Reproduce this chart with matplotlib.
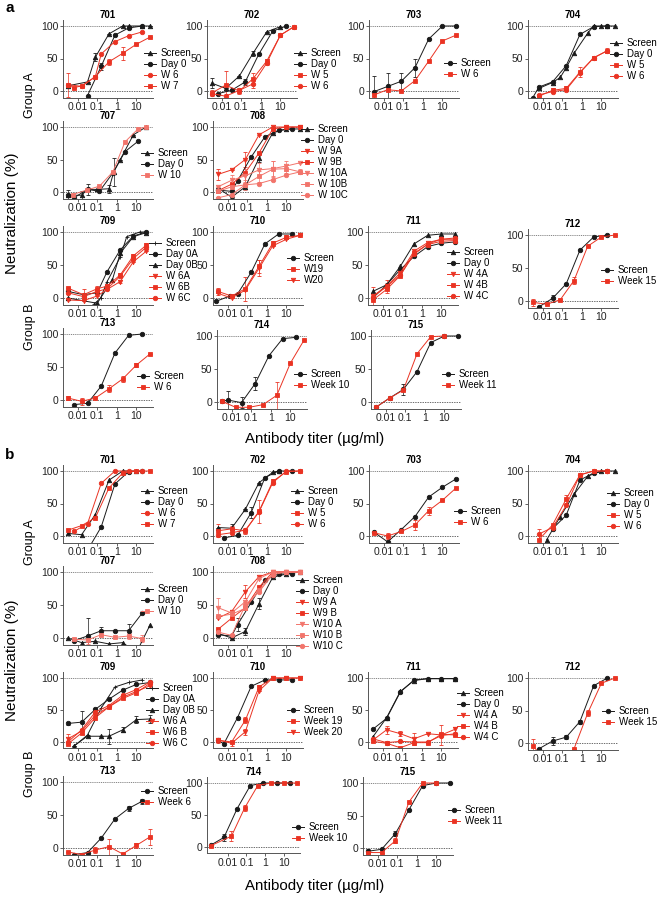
import matplotlib
matplotlib.use("Agg")
import matplotlib.pyplot as plt
from matplotlib.lines import Line2D

plt.rcParams['font.family'] = ['Liberation Sans', 'DejaVu Sans']

W, H = 658, 900
BLACK = '#1a1a1a'
RED = '#ea3323'
LIGHT_RED = '#f2746b'

# dilution series (µg/ml)
G5 = [0.0032, 0.016, 0.08, 0.4, 2, 10, 50]
G5b = [0.0064, 0.032, 0.16, 0.8, 4, 20]

# =============================================================================
# a: (label, x, y, error)
# =============================================================================
a701 = [
    ("Screen", [0.0032, 0.032, 0.08, 0.4, 2, 4, 20, 50], [8, 14, 52, 88, 100, 100, 100, 100], [0, 0, 6, 0, 0, 0, 0, 0]),
    ("Day 0", [0.032, 0.16, 0.8, 4, 20], [-7, 38, 86, 97, 100], [0, 5, 0, 0, 0]),
    ("W 6", [0.0032, 0.016, 0.08, 0.16, 0.8, 4, 20], [10, 7, 22, 57, 76, 85, 91], None),
    ("W 7", [0.0032, 0.0064, 0.016, 0.08, 0.4, 2, 10, 50], [9, 5, 8, 22, 45, 58, 72, 83], [18, 0, 0, 0, 5, 10, 0, 0]),
]
a702 = [
    ("Screen", G5[:6], [12, 4, 23, 58, 91, 99], [8, 0, 0, 4, 0, 0]),
    ("Day 0", G5b, [-4, 1, 14, 57, 92, 100], [0, 0, 4, 0, 0, 0]),
    ("W 5", G5, [-3, 9, 0, 19, 46, 86, 99], [5, 22, 5, 8, 4, 0, 0]),
    ("W 6", G5, [-4, -8, 1, 11, 43, 86, 99], [0, 3, 4, 6, 3, 0, 0]),
]
a703 = [
    ("Screen", G5, [-1, 7, 15, 36, 80, 100, 100], [24, 20, 12, 14, 0, 0, 0]),
    ("W 6", G5, [-6, 2, 0, 16, 46, 77, 86], None),
]
a704 = [
    ("Screen", [0.0064, 0.032, 0.08, 0.16, 0.4, 2, 4, 10, 20, 50], [4, 13, 21, 36, 58, 89, 100, 100, 100, 100], None),
    ("Day 0", [0.0032, 0.0064, 0.032, 0.16, 0.8, 4, 20], [-10, 6, 14, 39, 87, 99, 100], None),
    ("W 5", G5b, [-8, 1, 4, 29, 51, 62], [0, 3, 3, 8, 3, 4]),
    ("W 6", G5b, [-6, -1, 2, 28, 51, 62], [0, 0, 0, 0, 0, 0]),
]
a707 = [
    ("Screen", [0.0032, 0.016, 0.032, 0.1, 0.4, 0.7, 1.5, 7, 31], [-5, -5, 4, 4, 5, 31, 50, 88, 100], [8, 6, 8, 0, 6, 22, 0, 0, 0]),
    ("Day 0", [0.0032, 0.0064, 0.032, 0.13, 0.65, 2.6, 12], [-5, -9, 4, 1, 30, 62, 78], None),
    ("W 10", [0.0055, 0.029, 0.13, 0.63, 2.6, 12, 31], [-4, 3, 9, 31, 77, 97, 100], None),
]
a708 = [
    ("Screen", G5, [6, -8, 8, 52, 91, 97, 97], [0, 0, 0, 6, 0, 0, 0]),
    ("Day 0", [0.0032, 0.016, 0.032, 0.16, 0.8, 4, 20], [3, 1, 17, 54, 85, 95, 97], None),
    ("W 9A", G5, [27, 34, 50, 88, 100, 100, 100], [8, 0, 12, 0, 0, 0, 0]),
    ("W 9B", G5, [2, 12, 30, 60, 97, 100, 100], [0, 0, 20, 0, 0, 0, 0]),
    ("W 10A", G5, [8, 18, 25, 34, 36, 40, 45], [0, 8, 10, 10, 12, 8, 0]),
    ("W 10B", G5, [1, 8, 11, 24, 35, 36, 31], [0, 6, 8, 8, 12, 6, 4]),
    ("W 10C", G5, [-9, -4, 11, 13, 19, 26, 31], None),
]
R709 = [0.0032, 0.02, 0.1, 0.32, 1.5, 7, 32]
a709 = [
    ("Screen", [0.07, 0.15, 0.32, 1.5, 3.2, 15, 32], [-9, 0, 25, 62, 93, 100, 100], None),
    ("Day 0A", R709, [10, 5, 8, 40, 73, 94, 100], None),
    ("Day 0B", [0.0032, 0.1, 0.6, 1.5, 7, 32], [0, -8, 28, 68, 93, 99], None),
    ("W 6A", R709, [-3, -4, 3, 13, 25, 55, 71], [0, 0, 0, 0, 3, 0, 0]),
    ("W 6B", R709, [15, 5, 14, 18, 35, 64, 80], [0, 8, 4, 0, 3, 3, 3]),
    ("W 6C", R709, [8, 2, 10, 14, 33, 60, 77], None),
]
a710 = [
    ("Screen", [0.0026, 0.013, 0.032, 0.16, 0.8, 4, 20], [-5, 3, 6, 39, 82, 97, 97], None),
    ("W19", G5, [10, 3, 14, 48, 83, 92, 95], [5, 0, 18, 10, 4, 3, 0]),
    ("W20", G5, [7, 0, 12, 45, 79, 89, 95], [0, 0, 0, 12, 0, 0, 0]),
]
a711 = [
    ("Screen", G5, [10, 20, 48, 82, 95, 97, 97], None),
    ("Day 0", G5, [0, 20, 43, 63, 78, 83, 85], None),
    ("W 4A", G5, [3, 18, 38, 71, 84, 89, 89], [14, 10, 0, 0, 0, 0, 0]),
    ("W 4B", G5, [-3, 13, 34, 68, 81, 86, 87], None),
    ("W 4C", G5, [2, 17, 35, 66, 82, 89, 91], None),
]
a712 = [
    ("Screen", G5b, [-9, 4, 26, 77, 97, 100], [0, 5, 0, 0, 0, 0]),
    ("Week 15", G5, [-2, -5, 2, 31, 83, 97, 100], [5, 0, 0, 6, 0, 0, 0]),
]
a713 = [
    ("Screen", G5b, [-7, -5, 21, 71, 98, 100], None),
    ("W 6", G5, [3, -2, 3, 17, 32, 53, 70], [3, 5, 0, 5, 4, 3, 0]),
]
a714 = [
    ("Screen", [0.0032] + G5b, [1, 3, -1, 28, 70, 96, 98], [0, 14, 8, 10, 0, 0, 0]),
    ("Week 10", G5, [1, -8, -8, -4, 10, 59, 94], [0, 0, 0, 0, 20, 0, 0]),
]
a715 = [
    ("Screen", G5, [-8, 6, 19, 46, 90, 100, 100], [0, 0, 8, 0, 0, 0, 0]),
    ("Week 11", G5[:6], [-8, 6, 18, 73, 99, 100], None),
]

# =============================================================================
# b
# =============================================================================
b701 = [
    ("Screen", G5[:6], [4, 2, 33, 86, 100, 100], None),
    ("Day 0", [0.032, 0.16, 0.8, 4, 20], [-22, 14, 80, 99, 100], None),
    ("W 6", G5b, [7, 19, 81, 100, 100, 100], None),
    ("W 7", G5, [9, 16, 28, 74, 97, 100, 100], None),
]
b702 = [
    ("Screen", [0.0032, 0.016, 0.08, 0.4, 2, 4], [13, 12, 41, 82, 98, 100], [0, 6, 0, 0, 0, 0]),
    ("Day 0", G5b, [-3, 1, 36, 90, 100, 100], [0, 0, 8, 0, 0, 0]),
    ("W 5", G5, [8, 11, 8, 38, 84, 99, 100], [10, 5, 5, 18, 4, 0, 0]),
    ("W 6", G5, [2, 5, 9, 37, 82, 100, 100], None),
]
b703 = [
    ("Screen", G5, [6, -9, 10, 30, 60, 75, 88], None),
    ("W 6", G5, [5, 0, 7, 17, 39, 55, 74], [0, 4, 0, 8, 6, 0, 0]),
]
b704 = [
    ("Screen", G5[1:], [-6, 30, 64, 92, 100, 100], None),
    ("Day 0", G5b[1:], [11, 32, 86, 97, 100], None),
    ("W 5", G5b, [-6, 17, 57, 94, 100, 100], [8, 0, 6, 0, 0, 0]),
    ("W 6", G5b, [3, 13, 47, 94, 100, 100], [8, 0, 0, 0, 0, 0]),
]
b707 = [
    ("Screen", G5, [0, -7, -5, -9, -7, -22, 20], None),
    ("Day 0", G5b, [-4, 3, 11, 11, 11, 38], [0, 27, 6, 0, 10, 0]),
    ("W 10", G5b, [-2, -3, 5, 1, 3, -1], [0, 6, 0, 0, 5, 5]),
]
b708 = [
    ("Screen", G5, [7, 0, 10, 52, 92, 97, 100], [0, 0, 5, 8, 0, 0, 0]),
    ("Day 0", [0.0032, 0.016, 0.032, 0.16, 0.8, 4, 20], [5, 3, 20, 54, 88, 97, 97], [0, 0, 10, 0, 0, 0, 0]),
    ("W9 A", G5, [30, 40, 70, 93, 100, 100, 100], [0, 0, 10, 0, 0, 0, 0]),
    ("W9 B", G5, [13, 30, 46, 77, 100, 100, 100], None),
    ("W10 A", G5, [46, 38, 55, 90, 100, 100, 100], [15, 0, 0, 0, 0, 0, 0]),
    ("W10 B", G5, [33, 36, 45, 72, 98, 100, 100], None),
    ("W10 C", G5, [9, 4, 50, 70, 96, 100, 100], None),
]
b709 = [
    ("Screen", G5b, [-7, 11, 53, 86, 93, 97], None),
    ("Day 0A", G5, [29, 31, 51, 67, 81, 90, 93], [3, 18, 0, 0, 0, 0, 0]),
    ("Day 0B", [0.0064, 0.032, 0.16, 0.4, 2, 10, 50], [-6, 9, 9, 9, 19, 35, 36], [0, 0, 0, 12, 4, 6, 6]),
    ("W6 A", G5, [5, 17, 42, 55, 70, 79, 88], [8, 0, 0, 0, 0, 0, 0]),
    ("W6 B", G5, [-3, 14, 38, 55, 68, 77, 92], None),
    ("W6 C", G5, [0, 19, 47, 57, 73, 82, 94], None),
]
b710 = [
    ("Screen", [0.0032] + G5b, [3, -3, 38, 87, 97, 97, 97], None),
    ("Week 19", G5, [3, 0, 34, 86, 100, 100, 100], [4, 0, 5, 3, 0, 0, 0]),
    ("Week 20", G5, [3, -2, 16, 80, 100, 100, 100], [0, 4, 5, 0, 0, 0, 0]),
]
b711 = [
    ("Screen", G5, [8, 38, 79, 96, 99, 99, 99], None),
    ("Day 0", G5, [20, 37, 78, 97, 99, 99, 99], None),
    ("W4 A", G5, [3, 19, 13, 5, 13, 11, 20], [0, 6, 4, 9, 0, 16, 4]),
    ("W4 B", G5, [1, -2, -9, -1, -1, 12, 11], None),
    ("W4 C", G5, [5, -1, 1, 0, 0, 10, 13], None),
]
b712 = [
    ("Screen", G5b, [-9, 3, 9, 33, 88, 100], [0, 6, 3, 3, 0, 0]),
    ("Week 15", G5, [-4, -30, -30, -9, 46, 92, 100], [10, 0, 0, 0, 5, 0, 0]),
]
b713 = [
    ("Screen", G5b, [-10, -7, 15, 44, 60, 71], [0, 0, 0, 0, 4, 4]),
    ("Week 6", G5, [-6, -10, -3, 2, -9, 4, 17], [0, 0, 4, 12, 0, 4, 12]),
]
b714 = [
    ("Screen", [0.00128] + G5b, [3, 15, 60, 96, 100, 100, 100], [0, 5, 0, 0, 0, 0, 0]),
    ("Week 10", [0.00128, 0.016, 0.08, 0.4, 2, 10, 50], [2, 17, 61, 96, 100, 100, 100], [0, 8, 5, 0, 0, 0, 0]),
]
b715 = [
    ("Screen", G5, [-5, -2, 22, 59, 96, 100, 100], [4, 0, 4, 0, 0, 0, 0]),
    ("Week 11", G5[:6], [-7, -7, 11, 71, 100, 100], [0, 0, 4, 0, 0, 0]),
]

# layout in pixels: panel data, title, spine left, y of 100, y of 0, legend x, legend first-row y
layout = [
    (a701, "701", 63, 26, 91, 150, 53), (a702, "702", 207, 26, 91, 300, 53),
    (a703, "703", 369, 26, 91, 450, 63), (a704, "704", 528, 26, 91, 616, 43),
    (a707, "707", 63, 127, 192, 147, 153), (a708, "708", 213, 127, 192, 307, 129),
    (a709, "709", 63, 232, 298, 155, 243), (a710, "710", 213, 232, 298, 293, 258),
    (a711, "711", 368, 232, 298, 453, 252), (a712, "712", 528, 235, 301, 607, 270),
    (a713, "713", 63, 334, 400, 143, 376), (a714, "714", 217, 336, 402, 300, 374),
    (a715, "715", 371, 336, 402, 448, 374),
    (b701, "701", 63, 471, 536, 147, 491), (b702, "702", 213, 471, 536, 297, 491),
    (b703, "703", 369, 471, 536, 460, 511), (b704, "704", 528, 471, 536, 613, 493),
    (b707, "707", 63, 572, 638, 147, 589), (b708, "708", 213, 572, 638, 302, 580),
    (b709, "709", 63, 678, 742, 152, 688), (b710, "710", 213, 678, 742, 293, 710),
    (b711, "711", 368, 678, 742, 463, 693), (b712, "712", 528, 678, 743, 608, 711),
    (b713, "713", 63, 782, 848, 147, 791), (b714, "714", 207, 783, 847, 298, 827),
    (b715, "715", 363, 783, 848, 454, 810),
]


def style(label, labels):
    if label.startswith('Screen'):
        if 'Day 0B' in labels:
            return BLACK, '+'
        if any(l.startswith('Day') for l in labels):
            return BLACK, '^'
        return BLACK, 'o'
    if label == 'Day 0B':
        return BLACK, '^'
    if label.startswith('Day'):
        return BLACK, 'o'
    col = LIGHT_RED if label.startswith(('W 10', 'W10')) else RED
    if label.endswith('A'):
        return col, 'v'
    if label.endswith('C'):
        return col, 'o'
    if label.endswith('B') or label in ('W 5', 'W 7', 'W19', 'Week 19'):
        return col, 's'
    if label in ('W20', 'Week 20'):
        return col, 'v'
    reds = [l for l in labels if not l.startswith(('Screen', 'Day'))]
    return col, ('s' if len(reds) == 1 else 'o')


fig = plt.figure(figsize=(W / 100, H / 100), dpi=100)
FS = 7
MS = 3.2

for data, title, left, y100, y0, lx, ly in layout:
    ppu = (y0 - y100) / 100.0
    top = y100 - 9 * ppu
    bot = y0 + 10 * ppu
    xlo, width = (0.0008, 93) if data is b714 else (0.0018, 90)
    ax = fig.add_axes([left / W, 1 - bot / H, width / W, (bot - top) / H])
    ax.set_xscale('log')
    ax.set_xlim(xlo, 70)
    ax.set_ylim(-10, 109)
    ax.axhline(0, color='#333333', lw=0.5, ls=(0, (2, 1.5)), zorder=0)
    ax.axhline(100, color='#555555', lw=0.5, ls=(0, (1.5, 1.2)), zorder=0)
    labels = [d[0] for d in data]
    handles = []
    for label, x, y, err in data:
        c, m = style(label, labels)
        ax.errorbar(x, y, yerr=err, color=c, marker=m, ms=MS, mew=0.6, lw=0.7,
                    elinewidth=0.5, capsize=1.2, capthick=0.5)
        handles.append(Line2D([], [], color=c, marker=m, ms=MS, mew=0.6, lw=0.7))
    ax.set_xticks([0.01, 0.1, 1, 10])
    ax.set_xticklabels(['0.01', '0.1', '1', '10'])
    ax.minorticks_off()
    ax.set_yticks([0, 50, 100])
    ax.tick_params(labelsize=7.5, length=2, width=0.5, pad=1.5, colors='#222222')
    for s in ('top', 'right'):
        ax.spines[s].set_visible(False)
    for s in ('left', 'bottom'):
        ax.spines[s].set_linewidth(0.7)
        ax.spines[s].set_color('#555555')
    ax.set_title(title, fontsize=7, fontweight='bold', pad=1.5)
    hl = 1.3
    fs_px = FS * 100 / 72
    ax.legend(handles, labels, loc='upper left', frameon=False, fontsize=FS,
              handlelength=hl, handletextpad=0.45, labelspacing=0.1,
              borderpad=0, borderaxespad=0,
              bbox_to_anchor=((lx - hl * fs_px / 2) / W, 1 - (ly - fs_px / 2) / H),
              bbox_transform=fig.transFigure)

for off, tag in ((0, 'a'), (447, 'b')):
    fig.text(5 / W, 1 - (8 + off) / H, tag, fontsize=11, fontweight='bold', va='center')
    fig.text(12 / W, 1 - (213 + off) / H, 'Neutralization (%)', fontsize=11,
             rotation=90, va='center', ha='center')
    fig.text(30 / W, 1 - (95 + off) / H, 'Group A', fontsize=9, rotation=90, va='center', ha='center')
    fig.text(30 / W, 1 - (327 + off) / H, 'Group B', fontsize=9, rotation=90, va='center', ha='center')
    fig.text(315 / W, 1 - (439 + off) / H, 'Antibody titer (µg/ml)', fontsize=10.8,
             va='center', ha='center')

fig.savefig('out.png', dpi=100)
